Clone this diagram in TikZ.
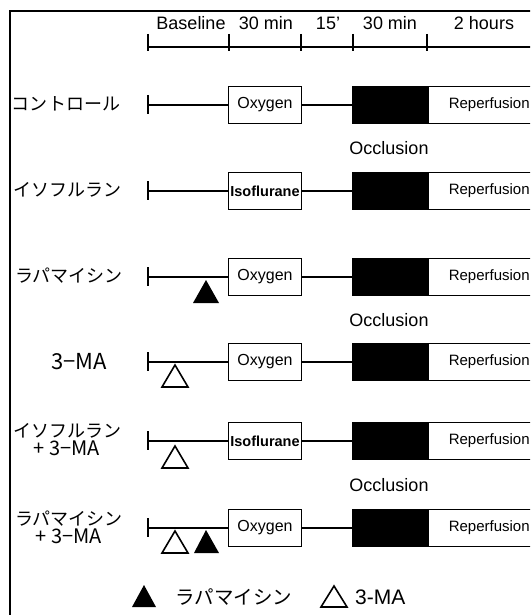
\documentclass[tikz,border=0pt]{standalone}
\usepackage{fontspec}
\setmainfont{Liberation Sans}
\newfontfamily\jp{Noto Sans CJK JP}
\usetikzlibrary{calc}
\tikzset{
  ln/.style={line width=1.6pt},
  box/.style={draw, line width=1.6pt, fill=white, minimum height=37pt, inner sep=0pt, font=\fontsize{16}{18}\selectfont},
  blk/.style={draw, line width=1.6pt, fill=black, minimum height=37pt, minimum width=75pt, inner sep=0pt},
  lab/.style={font=\jp\fontsize{18}{22}\selectfont, align=center, inner sep=0pt},
  tl/.style={font=\fontsize{18}{20}\selectfont, inner sep=0pt},
  occ/.style={font=\fontsize{18}{20}\selectfont, inner sep=0pt},
}
\begin{document}
\begin{tikzpicture}[x=1pt,y=-1pt]
\useasboundingbox (0,0) rectangle (530,615);
\clip (0,0) rectangle (530,615);
\fill[white] (0,0) rectangle (530,615);
% frame
\draw[line width=2pt] (10,640) -- (10,11) -- (560,11);
% timeline
\coordinate (t0) at (148,47);
\coordinate (t1) at (229,47);
\coordinate (t2) at (301,47);
\coordinate (t3) at (353,47);
\coordinate (t4) at (427,47);
\coordinate (tend) at (560,47);
\draw[ln] (t0) -- (tend);
\foreach \t in {t0,t1,t2,t3,t4}{\draw[ln] ($(\t)+(0,-13)$) -- ($(\t)+(0,4)$);}
\node[tl] (b0) at (191,23) {Baseline};
\node[tl] (b1) at (266,23) {30 min};
\node[tl] (b2) at (328,23) {15’};
\node[tl] (b3) at (390,23) {30 min};
\node[tl] (b4) at (484,23) {2 hours};
% rows
\foreach \i/\y/\drug in {1/105/{Oxygen},2/191/{\bfseries\fontsize{14.5}{16}\selectfont Isoflurane},3/277/{Oxygen},4/362/{Oxygen},5/441/{\bfseries\fontsize{14.5}{16}\selectfont Isoflurane},6/528/{Oxygen}}{
  \coordinate (s\i) at (148,\y);
  \node[box, minimum width=73pt] (o\i) at (265,\y) {\drug};
  \node[blk] (k\i) at (390,\y) {};
  \node[box, minimum width=130pt, anchor=west, text width=120pt, align=left, font=\fontsize{15}{18}\selectfont] (r\i) at (427,\y) {\hspace*{16pt}Reperfusion};
  \draw[ln] ($(s\i)+(0,-10)$) -- ($(s\i)+(0,9)$);
  \draw[ln] (s\i) -- (o\i.west);
  \draw[ln] (o\i.east) -- (k\i.west);
}
% labels
\node[lab] (l1) at (66,104) {コントロール};
\node[lab] (l2) at (67,190) {イソフルラン};
\node[lab] (l3) at (69,276) {ラパマイシン};
\node[lab, font=\jp\fontsize{22}{24}\selectfont] (l4) at (79,362) {3−MA};
\node[lab] (l5) at (67,440) {イソフルラン\\[-4pt]{\fontsize{20}{20}\selectfont + 3−MA}};
\node[lab] (l6) at (69,527) {ラパマイシン\\[-4pt]{\fontsize{20}{20}\selectfont + 3−MA}};
% occlusion labels
\node[occ] (c1) at (389,148) {Occlusion};
\node[occ] (c2) at (389,320) {Occlusion};
\node[occ] (c3) at (389,485) {Occlusion};
% triangles
\fill (206,280) -- (193,303) -- (219,303) -- cycle;
\draw[line width=1.6pt, line join=miter] (175,365) -- (162,387) -- (188,387) -- cycle;
\draw[line width=1.6pt, line join=miter] (175,446) -- (162,468) -- (188,468) -- cycle;
\draw[line width=1.6pt, line join=miter] (175,531) -- (162,553) -- (188,553) -- cycle;
\fill (206,530) -- (194,553) -- (219,553) -- cycle;
% legend
\fill (144,585) -- (132,607) -- (156,607) -- cycle;
\node[lab, anchor=west, font=\jp\fontsize{19.5}{22}\selectfont] (g1) at (175,597) {ラパマイシン};
\draw[line width=1.6pt, line join=miter] (334,586) -- (321,607) -- (347,607) -- cycle;
\node[tl, anchor=west, font=\fontsize{21}{22}\selectfont] (g2) at (355,597) {3-MA};
\end{tikzpicture}
\end{document}
